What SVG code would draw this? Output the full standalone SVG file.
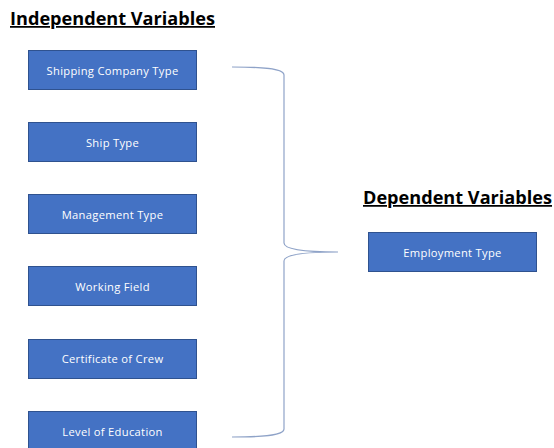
<svg xmlns="http://www.w3.org/2000/svg" width="554" height="448" viewBox="0 0 554 448">
<style>
.box{fill:#4472C4;stroke:#2F528F;stroke-width:1}
.lbl{font-family:"Open Sans","Liberation Sans",sans-serif;font-size:11.2px;letter-spacing:0.3px;fill:#ffffff;text-anchor:middle;dominant-baseline:central}
.title{font-family:"Open Sans","Liberation Sans",sans-serif;font-size:17.5px;font-weight:bold;fill:#000000;text-decoration:underline}
.brace{fill:none;stroke:#8FA3C8;stroke-width:1.2}
</style>
<rect width="554" height="448" fill="#ffffff"/>
<text class="title" x="10" y="25" textLength="205" lengthAdjust="spacingAndGlyphs">Independent Variables</text>
<text class="title" x="363" y="204" textLength="189" lengthAdjust="spacingAndGlyphs">Dependent Variables</text>
<g id="n1"><rect class="box" x="28.5" y="50.5" width="168" height="39"/><text class="lbl" x="112.5" y="70">Shipping Company Type</text></g>
<g id="n2"><rect class="box" x="28.5" y="122.5" width="168" height="39"/><text class="lbl" x="112.5" y="142">Ship Type</text></g>
<g id="n3"><rect class="box" x="28.5" y="194.5" width="168" height="39"/><text class="lbl" x="112.5" y="214">Management Type</text></g>
<g id="n4"><rect class="box" x="28.5" y="266.5" width="168" height="39"/><text class="lbl" x="112.5" y="286">Working Field</text></g>
<g id="n5"><rect class="box" x="28.5" y="339.5" width="168" height="39"/><text class="lbl" x="112.5" y="358">Certificate of Crew</text></g>
<g id="n6"><rect class="box" x="28.5" y="411.5" width="168" height="39"/><text class="lbl" x="112.5" y="431">Level of Education</text></g>
<g id="n7"><rect class="box" x="368.5" y="232.5" width="168" height="39"/><text class="lbl" x="452.5" y="252">Employment Type</text></g>
<g id="connectors">
<path class="brace" d="M232,67 C260,67 284,68 284,75 L284,243 C284,250 310,252 338,252 C310,252 284,254 284,261 L284,429 C284,436 260,437 232,437"/>
</g>
</svg>
